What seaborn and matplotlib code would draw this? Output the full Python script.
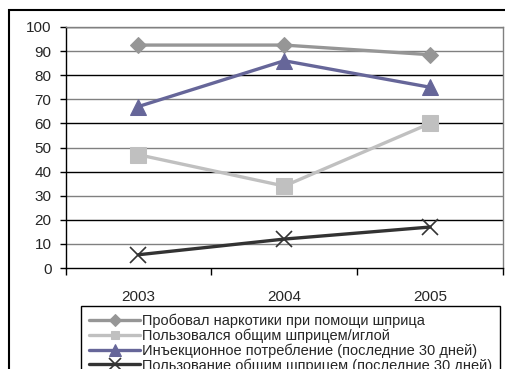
import numpy as np
import matplotlib
matplotlib.use("Agg")
import matplotlib.pyplot as plt
from matplotlib.patches import Rectangle
import seaborn as sns

years = ["2003", "2004", "2005"]
series_names = [
    "Пробовал наркотики при помощи шприца",
    "Пользовался общим шприцем/иглой",
    "Инъекционное потребление (последние 30 дней)",
    "Пользование общим шприцем (последние 30 дней)",
]
tried_injecting = [92.5, 92.5, 88.5]
shared_ever = [47, 34, 60]
injected_30d = [67, 86, 75]
shared_30d = [5.5, 12, 17]
y_ticks = list(range(0, 101, 10))

sns.set_style("ticks")
plt.rcParams["font.family"] = ["Liberation Sans", "DejaVu Sans"]

W, H = 505, 369
fig = plt.figure(figsize=(W / 100, H / 100), dpi=100)
ax = fig.add_axes([65.5 / W, 1 - 268 / H, (503 - 65.5) / W, (268 - 27) / H])

x = np.arange(len(years))
styles = [
    (tried_injecting, "#969696", "D", 7.8, {}),
    (shared_ever, "#C0C0C0", "s", 11.0, {}),
    (injected_30d, "#666699", "^", 12.0, {}),
    (shared_30d, "#333333", "x", 12.0, {"markeredgewidth": 1.2}),
]
for name, (vals, col, mk, ms, extra) in zip(series_names, styles):
    sns.lineplot(x=x, y=vals, ax=ax, color=col, marker=mk, markersize=ms,
                 markeredgecolor=col, linewidth=2.4, label=name, **extra)

ax.set_xlim(-0.5, len(years) - 0.5)
ax.set_ylim(0, 100)
ax.set_yticks(y_ticks)
ax.set_yticklabels([str(t) for t in y_ticks], fontsize=11)
ax.tick_params(axis="y", length=4, width=1, pad=6, color="black")

# category boundaries carry the tick marks, labels sit at the centres
ax.set_xticks(np.arange(-0.5, len(years), 1.0))
ax.set_xticklabels([])
ax.set_xticks(x, minor=True)
ax.set_xticklabels(years, minor=True, fontsize=11)
ax.tick_params(axis="x", which="major", length=5, width=1, color="black")
ax.tick_params(axis="x", which="minor", length=0, pad=16)
ax.set_xlabel("")
ax.set_ylabel("")

ax.grid(False)
for t in y_ticks[1:]:
    ax.axhline(t, color="black" if t % 20 == 0 else "#808080", lw=1, zorder=0.5)

for side in ("left", "bottom"):
    ax.spines[side].set_color("black")
    ax.spines[side].set_linewidth(1)
for side in ("top", "right"):
    ax.spines[side].set_visible(True)
    ax.spines[side].set_color("#808080")
    ax.spines[side].set_linewidth(1)

leg = ax.legend(loc="upper left", bbox_to_anchor=(81 / W, 1 - 306 / H),
                bbox_transform=fig.transFigure, fontsize=10.5, frameon=True,
                fancybox=False, edgecolor="black", framealpha=1,
                handlelength=3.5, handletextpad=0.15, labelspacing=0.02,
                borderpad=0.55, borderaxespad=0)
leg.get_frame().set_linewidth(1)
for ln, ms in zip(leg.get_lines(), [6, 6, 8, 8]):
    ln.set_markersize(ms)

fig.add_artist(Rectangle((9 / W, -0.1), 1.2, 1 - 10 / H + 0.1,
                         transform=fig.transFigure, fill=False,
                         edgecolor="black", lw=1.5))

fig.savefig("out.png", dpi=100)
